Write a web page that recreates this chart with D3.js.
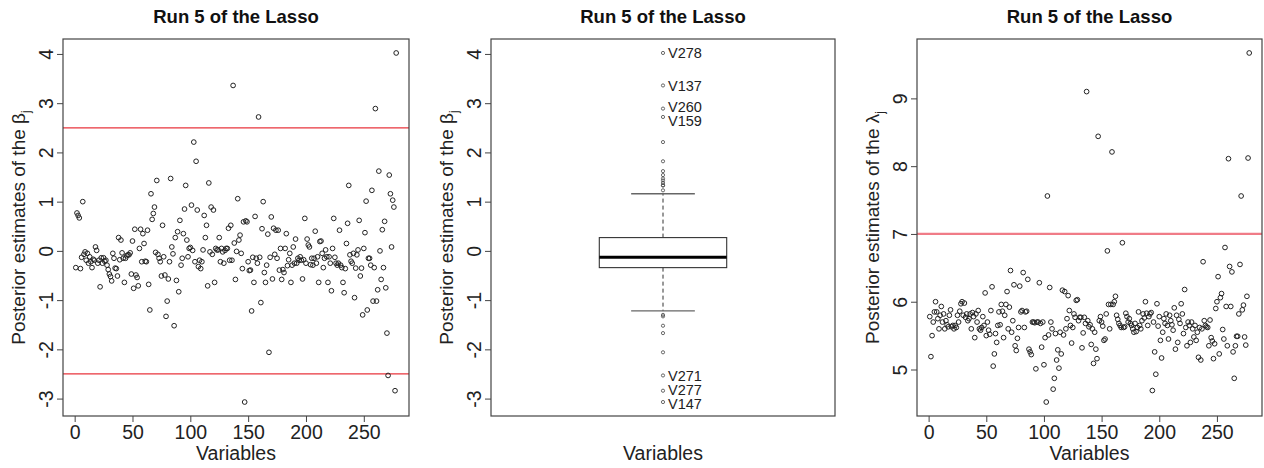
<!DOCTYPE html>
<html><head><meta charset="utf-8">
<script src="https://cdn.jsdelivr.net/npm/d3@7"></script>
<style>
html,body{margin:0;padding:0;background:#fff;}
svg{display:block;font-family:"Liberation Sans",Arial,Helvetica,sans-serif;}
</style></head>
<body><svg id="chart" width="1264" height="468"></svg>
<script>
// ---- data ----
const betas = [
-0.34,0.77,0.72,0.67,-0.36,-0.13,1.00,-0.07,-0.02,-0.19,
-0.05,-0.25,-0.12,-0.22,-0.34,-0.17,-0.19,0.08,0.01,-0.25,
-0.19,-0.73,-0.14,-0.25,-0.14,-0.21,-0.19,-0.29,-0.38,-0.47,
-0.52,-0.61,-0.05,-0.15,-0.35,-0.36,-0.51,0.27,-0.18,0.22,
-0.04,-0.15,-0.64,-0.15,-0.10,-0.08,-0.08,-0.04,-0.47,0.20,
-0.76,0.44,-0.49,-0.54,-0.71,0.05,0.44,-0.22,0.35,0.15,
-0.21,-0.22,0.42,-0.68,-1.20,1.16,0.64,0.76,0.89,-0.03,
1.43,-0.07,-0.15,-0.22,-0.51,0.52,-0.12,-0.49,-1.33,-1.02,
-0.57,-0.22,1.47,0.08,-0.06,-1.52,0.27,-0.60,0.39,-0.83,
0.62,-0.29,-0.15,0.35,0.85,1.33,0.22,-0.12,0.05,0.07,
0.93,0.01,2.21,-0.22,1.82,0.83,-0.32,-0.19,-0.36,-0.22,
0.02,0.72,0.27,0.52,-0.71,1.38,-0.02,0.89,-0.07,0.83,
-0.64,0.05,0.02,0.02,0.27,-0.22,0.05,-0.02,-0.25,0.01,
0.05,0.05,0.46,-0.19,0.52,-0.19,3.36,0.16,-0.58,-0.01,
1.06,0.22,0.32,-0.05,-0.36,0.59,-3.07,0.61,0.59,-0.22,
-0.40,-0.39,-1.22,-0.13,-0.64,0.70,-0.15,-0.25,2.72,-0.13,
-1.05,0.45,1.00,-0.44,-0.64,-0.29,0.34,-2.06,-0.13,0.69,
-0.57,0.46,-0.07,0.42,-0.15,0.42,-0.39,0.05,-0.58,-0.38,
-0.44,0.05,0.35,-0.30,-0.18,-0.05,-0.64,-0.29,0.08,-0.25,
0.24,-0.25,-0.15,-0.19,-0.12,-0.19,-0.57,-0.18,0.66,-0.25,
0.24,0.12,0.08,-0.28,-0.15,-0.29,-0.15,0.40,-0.25,-0.12,
-0.64,0.19,0.20,-0.05,-0.34,-0.15,0.02,-0.12,-0.64,-0.12,
-0.25,-0.81,0.05,0.66,-0.13,-0.25,-0.29,-0.25,0.42,-0.29,
-0.34,-0.64,-0.85,-0.36,0.15,0.56,1.33,-0.08,-0.21,-0.25,
-0.05,-0.95,-0.35,-0.08,0.02,0.62,-0.51,-0.35,-1.30,0.05,
0.37,1.01,-1.20,-0.15,-0.15,-0.29,1.23,-1.02,-0.34,2.89,
-1.02,-0.79,1.62,0.00,-0.58,0.43,-0.34,0.60,-0.75,-1.67,
-2.53,1.54,1.16,0.08,1.03,0.89,-2.84,4.02
];
const lambdas = [
5.78,5.19,5.50,5.70,5.85,6.00,5.85,5.75,5.60,5.80,
5.93,5.70,5.82,5.60,5.72,5.66,5.63,5.80,5.88,5.63,
5.65,5.60,5.65,5.62,5.80,5.70,5.86,5.97,6.00,5.80,
5.98,5.77,5.82,5.72,5.75,5.82,5.60,5.84,5.78,5.47,
5.82,5.70,5.87,5.60,5.58,5.62,5.78,5.65,6.13,5.50,
5.70,5.58,5.52,5.87,6.22,5.05,5.23,5.53,5.40,5.65,
5.85,5.66,5.96,5.86,5.47,5.80,5.96,6.15,5.60,5.92,
6.46,5.55,5.72,6.25,5.35,5.28,5.46,5.62,6.23,5.85,
5.87,6.43,5.62,5.85,5.86,6.33,5.30,5.26,5.22,5.70,
5.70,5.69,5.01,5.70,5.70,6.28,5.68,5.33,5.70,5.07,
5.47,4.52,7.56,5.51,6.21,5.70,5.60,4.71,4.87,5.53,
5.14,5.29,5.02,5.55,5.23,6.17,5.51,6.15,5.60,5.75,
6.09,5.87,5.65,5.39,5.62,5.82,5.77,6.02,6.03,5.72,
5.77,5.77,5.32,5.54,5.77,5.68,9.10,5.72,5.63,5.66,
5.37,5.60,5.09,5.55,5.30,5.16,8.44,5.72,5.78,5.70,
5.64,5.43,5.45,5.82,6.75,5.96,5.60,5.96,8.21,5.96,
6.00,6.08,5.80,5.74,5.68,5.65,5.62,6.87,5.62,5.63,
5.83,5.78,5.70,5.75,5.68,5.65,5.60,5.55,5.68,5.56,
5.62,5.85,5.65,5.60,5.72,5.82,5.76,6.00,5.83,5.65,
5.78,5.82,5.84,4.69,5.70,5.26,4.93,5.97,5.64,5.78,
5.43,5.17,5.55,5.75,5.68,5.82,5.65,5.45,5.80,5.72,
5.66,5.58,5.91,5.30,5.80,5.40,5.74,5.68,5.97,5.82,
5.53,6.18,5.62,5.35,5.70,5.65,5.40,5.70,5.60,5.48,
5.65,5.43,5.55,5.18,5.62,5.14,5.60,6.59,5.72,5.65,
5.63,5.62,5.35,5.73,5.47,5.42,5.16,5.38,5.90,6.00,
6.37,5.23,6.06,6.12,5.59,5.45,6.80,5.93,5.35,8.11,
6.52,5.93,6.44,5.26,4.87,5.35,5.49,5.49,5.82,6.55,
7.56,5.88,5.95,5.48,5.36,6.08,8.12,9.67
];
const titleText = "Run 5 of the Lasso";
const xLabel = "Variables";
const xTicks = [0, 50, 100, 150, 200, 250];
const betaTicks = [-3, -2, -1, 0, 1, 2, 3, 4];
const lambdaTicks = [5, 6, 7, 8, 9];
const betaRefLines = [-2.5, 2.5];
const lambdaRefLines = [7];
const labelThreshold = 2.5;

// ---- layout ----
const svg = d3.select("#chart");
const plotTop = 39, plotBottom = 416;
const panels = [{l:63, r:409}, {l:491, r:835}, {l:917, r:1262}];
const font = 19.5;

function rExtent(vals){ // R-style 4% extension
  const [a,b] = d3.extent(vals); const d = (b-a)*0.04; return [a-d, b+d];
}
const idx = betas.map((_, i) => i + 1);
const fmt = d => String(d);

function frame(g, p){
  g.append("rect").attr("x", p.l).attr("y", plotTop).attr("width", p.r-p.l).attr("height", plotBottom-plotTop)
   .attr("fill","none").attr("stroke","#444").attr("stroke-width",1.2);
}
function title(g, p){
  g.append("text").attr("x",(p.l+p.r)/2).attr("y",23).attr("text-anchor","middle")
   .attr("font-weight","bold").attr("font-size",18.5).attr("fill","#111").text(titleText);
}
function yAxis(g, p, y, ticks){
  const ax = g.append("g").attr("transform",`translate(${p.l},0)`)
    .call(d3.axisLeft(y).tickValues(ticks).tickSize(6).tickFormat(fmt));
  ax.select(".domain").remove();
  ax.selectAll(".tick line").attr("stroke","#444");
  ax.selectAll(".tick text").attr("transform","rotate(-90)").attr("x",0).attr("y",-10)
    .attr("dy",0).attr("text-anchor","middle").attr("font-size",font).attr("fill","#222")
    .attr("font-family","inherit");
}
function xAxis(g, p, x, ticks){
  const ax = g.append("g").attr("transform",`translate(0,${plotBottom})`)
    .call(d3.axisBottom(x).tickValues(ticks).tickSize(6).tickPadding(3).tickFormat(fmt));
  ax.select(".domain").remove();
  ax.selectAll(".tick line").attr("stroke","#444");
  ax.selectAll(".tick text").attr("font-size",font).attr("fill","#222").attr("font-family","inherit");
}
function xLab(g, p){
  g.append("text").attr("x",(p.l+p.r)/2).attr("y",460).attr("text-anchor","middle")
   .attr("font-size",font).attr("fill","#222").text(xLabel);
}
function yLab(g, p, sym){
  const t = g.append("text").attr("transform",`translate(${p.l-38},${(plotTop+plotBottom)/2}) rotate(-90)`)
   .attr("text-anchor","middle").attr("font-size",19).attr("fill","#222");
  t.append("tspan").text("Posterior estimates of the " + sym);
  t.append("tspan").attr("font-size",12).attr("dy",5).text("j");
}
function scatter(g, vals, x, y){
  g.selectAll("circle").data(vals).join("circle")
   .attr("cx",(d,i)=>x(i+1)).attr("cy",d=>y(d)).attr("r",2.35)
   .attr("fill","none").attr("stroke","#222").attr("stroke-width",1);
}

// ---- panel 1: betas scatter ----
{
  const p = panels[0], g = svg.append("g");
  const x = d3.scaleLinear().domain(rExtent(idx)).range([p.l, p.r]);
  const y = d3.scaleLinear().domain(rExtent(betas)).range([plotBottom, plotTop]);
  g.selectAll("line.ref").data(betaRefLines).join("line").attr("class","ref")
   .attr("x1",p.l).attr("x2",p.r).attr("y1",d=>y(d)).attr("y2",d=>y(d))
   .attr("stroke","#e8343c").attr("stroke-width",1.3);
  scatter(g, betas, x, y);
  frame(g,p); title(g,p); yAxis(g,p,y,betaTicks); xAxis(g,p,x,xTicks); xLab(g,p); yLab(g,p,"\u03B2");
}

// ---- panel 2: boxplot of betas ----
{
  const p = panels[1], g = svg.append("g");
  const y = d3.scaleLinear().domain(rExtent(betas)).range([plotBottom, plotTop]);
  const x = d3.scaleLinear().domain([0.46, 1.54]).range([p.l, p.r]);
  const s = betas.slice().sort(d3.ascending), n = s.length;
  const n4 = Math.floor((n + 3) / 2) / 2;
  const dpos = [1, n4, (n + 1) / 2, n + 1 - n4, n];
  const fn = dpos.map(d => 0.5 * (s[Math.floor(d) - 1] + s[Math.ceil(d) - 1]));
  const [q1, med, q3] = [fn[1], fn[2], fn[3]];
  const iqr = q3 - q1;
  const hiW = d3.max(s.filter(v => v <= q3 + 1.5 * iqr));
  const loW = d3.min(s.filter(v => v >= q1 - 1.5 * iqr));
  const outs = betas.map((v,i)=>({v, i:i+1})).filter(o => o.v > hiW || o.v < loW);
  g.append("line").attr("x1",x(1)).attr("x2",x(1)).attr("y1",y(q3)).attr("y2",y(hiW))
   .attr("stroke","#333").attr("stroke-dasharray","4,3");
  g.append("line").attr("x1",x(1)).attr("x2",x(1)).attr("y1",y(q1)).attr("y2",y(loW))
   .attr("stroke","#333").attr("stroke-dasharray","4,3");
  [hiW, loW].forEach(v => g.append("line").attr("x1",x(0.9)).attr("x2",x(1.1))
     .attr("y1",y(v)).attr("y2",y(v)).attr("stroke","#666").attr("stroke-width",1.3));
  g.append("rect").attr("x",x(0.8)).attr("width",x(1.2)-x(0.8)).attr("y",y(q3)).attr("height",y(q1)-y(q3))
   .attr("fill","#fff").attr("stroke","#333").attr("stroke-width",1.1);
  g.append("line").attr("x1",x(0.8)).attr("x2",x(1.2)).attr("y1",y(med)).attr("y2",y(med))
   .attr("stroke","#000").attr("stroke-width",3);
  g.selectAll("circle").data(outs).join("circle")
   .attr("cx",x(1)).attr("cy",d=>y(d.v)).attr("r",1.6)
   .attr("fill","none").attr("stroke","#444").attr("stroke-width",0.8);
  // labels for extreme variables, pushed apart so they do not collide
  const labeled = outs.filter(o => Math.abs(o.v) > labelThreshold)
    .map(o => ({...o, ly: y(o.v)})).sort((a,b) => a.ly - b.ly);
  const gap = 13.8;
  for (let k = 1; k < labeled.length; k++) {
    if (labeled[k].ly - labeled[k-1].ly < gap) {
      const need = gap - (labeled[k].ly - labeled[k-1].ly);
      labeled[k-1].ly -= need * 0.3; labeled[k].ly += need * 0.7;
    }
  }
  g.selectAll("text.lab").data(labeled).join("text").attr("class","lab")
   .attr("x",x(1)+5).attr("y",d=>d.ly).attr("dy","0.36em")
   .attr("font-size",14.5).attr("fill","#222").text(d=>"V"+d.i);
  frame(g,p); title(g,p); yAxis(g,p,y,betaTicks); xLab(g,p); yLab(g,p,"\u03B2");
}

// ---- panel 3: lambdas scatter ----
{
  const p = panels[2], g = svg.append("g");
  const x = d3.scaleLinear().domain(rExtent(idx)).range([p.l, p.r]);
  const y = d3.scaleLinear().domain(rExtent(lambdas)).range([plotBottom, plotTop]);
  g.selectAll("line.ref").data(lambdaRefLines).join("line").attr("class","ref")
   .attr("x1",p.l).attr("x2",p.r).attr("y1",d=>y(d)).attr("y2",d=>y(d))
   .attr("stroke","#f07c87").attr("stroke-width",2.2);
  scatter(g, lambdas, x, y);
  frame(g,p); title(g,p); yAxis(g,p,y,lambdaTicks); xAxis(g,p,x,xTicks); xLab(g,p); yLab(g,p,"\u03BB");
}
</script></body></html>
